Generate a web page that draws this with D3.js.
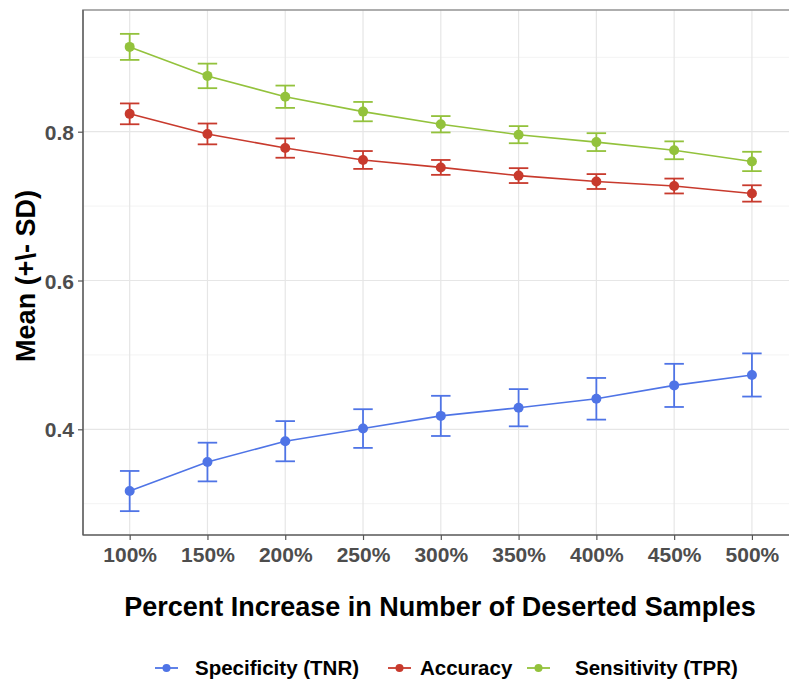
<!DOCTYPE html>
<html>
<head>
<meta charset="utf-8">
<script src="https://cdn.jsdelivr.net/npm/d3@7/dist/d3.min.js"></script>
<style>
  html, body { margin: 0; padding: 0; background: #ffffff; }
  svg { display: block; font-family: "Liberation Sans", Arial, Helvetica, sans-serif; }
</style>
</head>
<body>
<svg id="chart" width="789" height="682"></svg>
<script>
// Categories on the x axis
const categories = ["100%", "150%", "200%", "250%", "300%", "350%", "400%", "450%", "500%"];

// Series means
const specificityMean = [0.317, 0.356, 0.384, 0.401, 0.418, 0.429, 0.441, 0.459, 0.473];
const accuracyMean    = [0.824, 0.797, 0.778, 0.762, 0.752, 0.741, 0.733, 0.727, 0.717];
const sensitivityMean = [0.914, 0.875, 0.847, 0.827, 0.810, 0.796, 0.786, 0.775, 0.760];

// Series standard deviations
const specificitySD = [0.027, 0.026, 0.027, 0.026, 0.027, 0.025, 0.028, 0.029, 0.029];
const accuracySD    = [0.014, 0.014, 0.013, 0.012, 0.010, 0.010, 0.010, 0.010, 0.011];
const sensitivitySD = [0.0175, 0.0165, 0.015, 0.013, 0.011, 0.0115, 0.012, 0.012, 0.013];

const seriesNames  = ["Specificity (TNR)", "Accuracy", "Sensitivity (TPR)"];
const seriesColors = ["#4f74e6", "#c83a2d", "#93c23c"];

const yTicks = [0.4, 0.6, 0.8];
const yMinorTicks = [0.3, 0.5, 0.7, 0.9];

const xTitle = "Percent Increase in Number of Deserted Samples";
const yTitle = "Mean (+\\- SD)";

const series = [
  { name: seriesNames[0], color: seriesColors[0], mean: specificityMean, sd: specificitySD },
  { name: seriesNames[1], color: seriesColors[1], mean: accuracyMean,    sd: accuracySD },
  { name: seriesNames[2], color: seriesColors[2], mean: sensitivityMean, sd: sensitivitySD }
];

const svg = d3.select("#chart");
const panel = { left: 83, top: 10, right: 798.6, bottom: 535 };

// Discrete x scale with ggplot-style 0.6 expansion
const x = d3.scalePoint().domain(categories).range([panel.left, panel.right]).padding(0.6);

// y limits span all error bars with 5% expansion
const lo = d3.min(series, s => d3.min(s.mean, (m, i) => m - s.sd[i]));
const hi = d3.max(series, s => d3.max(s.mean, (m, i) => m + s.sd[i]));
const pad = (hi - lo) * 0.05;
const y = d3.scaleLinear().domain([lo - pad, hi + pad]).range([panel.bottom, panel.top]);

// Panel background
svg.append("rect")
  .attr("x", panel.left).attr("y", panel.top)
  .attr("width", panel.right - panel.left).attr("height", panel.bottom - panel.top)
  .attr("fill", "#ffffff");

// Minor horizontal gridlines
svg.append("g").selectAll("line").data(yMinorTicks).join("line")
  .attr("x1", panel.left).attr("x2", panel.right)
  .attr("y1", d => y(d)).attr("y2", d => y(d))
  .attr("stroke", "#f3f3f3").attr("stroke-width", 1);

// Major horizontal gridlines
svg.append("g").selectAll("line").data(yTicks).join("line")
  .attr("x1", panel.left).attr("x2", panel.right)
  .attr("y1", d => y(d)).attr("y2", d => y(d))
  .attr("stroke", "#e6e6e6").attr("stroke-width", 1.2);

// Vertical gridlines
svg.append("g").selectAll("line").data(categories).join("line")
  .attr("x1", d => x(d)).attr("x2", d => x(d))
  .attr("y1", panel.top).attr("y2", panel.bottom)
  .attr("stroke", "#e6e6e6").attr("stroke-width", 1.2);

// Panel border
svg.append("rect")
  .attr("x", panel.left).attr("y", panel.top)
  .attr("width", panel.right - panel.left).attr("height", panel.bottom - panel.top)
  .attr("fill", "none").attr("stroke", "#9a9a9a").attr("stroke-width", 1.6);

// Series: lines, error bars, points
const capHalf = x.step() * 0.125;
const line = d3.line().x((d, i) => x(categories[i])).y(d => y(d));

series.forEach(s => {
  const g = svg.append("g");
  g.append("path")
    .datum(s.mean)
    .attr("d", line)
    .attr("fill", "none")
    .attr("stroke", s.color)
    .attr("stroke-width", 1.6);

  const rows = s.mean.map((m, i) => ({ c: categories[i], m, sd: s.sd[i] }));
  const eb = g.append("g").attr("stroke", s.color).attr("stroke-width", 1.8).attr("fill", "none");
  eb.selectAll("line.v").data(rows).join("line").attr("class", "v")
    .attr("x1", d => x(d.c)).attr("x2", d => x(d.c))
    .attr("y1", d => y(d.m - d.sd)).attr("y2", d => y(d.m + d.sd));
  eb.selectAll("line.t").data(rows).join("line").attr("class", "t")
    .attr("x1", d => x(d.c) - capHalf).attr("x2", d => x(d.c) + capHalf)
    .attr("y1", d => y(d.m + d.sd)).attr("y2", d => y(d.m + d.sd));
  eb.selectAll("line.b").data(rows).join("line").attr("class", "b")
    .attr("x1", d => x(d.c) - capHalf).attr("x2", d => x(d.c) + capHalf)
    .attr("y1", d => y(d.m - d.sd)).attr("y2", d => y(d.m - d.sd));

  g.selectAll("circle").data(rows).join("circle")
    .attr("cx", d => x(d.c)).attr("cy", d => y(d.m))
    .attr("r", 5).attr("fill", s.color);
});

// Axes
const yAxis = d3.axisLeft(y).tickValues(yTicks).tickFormat(d3.format(".1f")).tickSize(5).tickPadding(4);
const yg = svg.append("g").attr("transform", `translate(${panel.left},0)`).call(yAxis);
yg.select(".domain").attr("d", `M0,${panel.top}V${panel.bottom}`).attr("stroke", "#555").attr("stroke-width", 1.2);
yg.selectAll(".tick line").attr("stroke", "#555").attr("stroke-width", 1.2);
yg.selectAll(".tick text")
  .attr("font-size", 21).attr("font-weight", "bold").attr("fill", "#4d4d4d")
  .attr("dy", "0.36em");

const xAxis = d3.axisBottom(x).tickSize(5).tickPadding(6);
const xg = svg.append("g").attr("transform", `translate(0,${panel.bottom})`).call(xAxis);
xg.select(".domain").attr("d", `M${panel.left},0H${panel.right}`).attr("stroke", "#555").attr("stroke-width", 1.2);
xg.selectAll(".tick line").attr("stroke", "#555").attr("stroke-width", 1.2);
xg.selectAll(".tick text")
  .attr("font-size", 21).attr("font-weight", "bold").attr("fill", "#4d4d4d")
  .attr("dy", "0.74em");

// Axis titles
svg.append("text")
  .attr("x", 440).attr("y", 616)
  .attr("text-anchor", "middle")
  .attr("font-size", 27).attr("font-weight", "bold").attr("fill", "#000")
  .text(xTitle);

svg.append("text")
  .attr("transform", "translate(35,276) rotate(-90)")
  .attr("text-anchor", "middle")
  .attr("font-size", 27).attr("font-weight", "bold").attr("fill", "#000")
  .text(yTitle);

// Legend
const legendY = 668;
const legendKeys = [155, 388, 527];
const legendTextX = [195, 420, 575];
const legend = svg.append("g");
series.forEach((s, i) => {
  const kx = legendKeys[i];
  const item = legend.append("g").attr("transform", `translate(${kx},${legendY})`);
  item.append("line").attr("x1", 0).attr("x2", 23).attr("y1", 0).attr("y2", 0)
    .attr("stroke", s.color).attr("stroke-width", 1.8);
  item.append("circle").attr("cx", 11.5).attr("cy", 0).attr("r", 4).attr("fill", s.color);
  legend.append("text").attr("x", legendTextX[i]).attr("y", legendY + 7)
    .attr("font-size", 20.5).attr("font-weight", "bold").attr("fill", "#000")
    .text(s.name);
});
</script>
</body>
</html>
